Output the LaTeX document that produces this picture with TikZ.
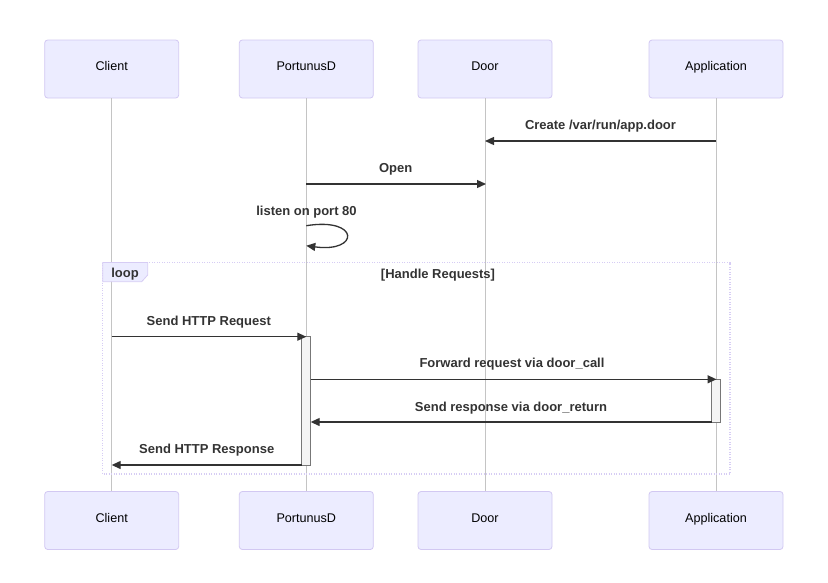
\documentclass[tikz,border=0pt]{standalone}
\usepackage{fontspec}
\setmainfont{Liberation Sans}
\usetikzlibrary{arrows.meta}
\definecolor{actfill}{HTML}{ECECFF}
\definecolor{actline}{HTML}{D2C8F2}
\definecolor{loopline}{HTML}{D6CCF4}
\definecolor{lifegray}{HTML}{C4C4C4}
\definecolor{msgline}{HTML}{333333}
\definecolor{actbg}{HTML}{F4F4F4}
\definecolor{actgray}{HTML}{777777}
\begin{document}
\begin{tikzpicture}[x=1pt, y=-1pt,
  actor/.style={draw=actline, fill=actfill, rounded corners=3pt, line width=0.8pt, minimum width=134pt, minimum height=58pt, text height=9pt, text depth=6pt, font=\fontsize{12.6}{15}\selectfont},
  life/.style={draw=lifegray, line width=1pt},
  msg/.style={draw=msgline, line width=1.3pt, -{Triangle[length=9pt,width=8pt]}},
  msgtext/.style={font=\bfseries\fontsize{13}{15}\selectfont, text=msgline},
  act/.style={draw=actgray, fill=actbg, line width=0.8pt, minimum width=9pt, inner sep=0pt},
  loopbox/.style={draw=loopline, line width=1.2pt, dash pattern=on 1pt off 1.5pt}]
\useasboundingbox (0,0) rectangle (828,582);
% participants
\node[actor] (Client) at (111.7, 69) {Client};
\node[actor] (Portunus) at (306.3, 69) {PortunusD};
\node[actor] (Door) at (485, 69) {Door};
\node[actor] (App) at (716, 69) {Application};
\node[actor] (Client2) at (111.7, 520.5) {Client};
\node[actor] (Portunus2) at (306.3, 520.5) {PortunusD};
\node[actor] (Door2) at (485, 520.5) {Door};
\node[actor] (App2) at (716, 520.5) {Application};
% lifelines
\draw[life] (Client) -- (Client2);
\draw[life] (Portunus) -- (Portunus2);
\draw[life] (Door) -- (Door2);
\draw[life] (App) -- (App2);
% loop frame
\draw[loopbox] (102.7,262.5) rectangle (730,474);
\draw[draw=loopline, fill=actfill, line width=0.8pt] (102.7,262.5) -- (147.7,262.5) -- (147.7,275) -- (141.7,281.7) -- (102.7,281.7) -- cycle;
\node[msgtext] (loop) at (125,273.8) {loop};
\node[msgtext] (cond) at (438,275.5) {[Handle Requests]};
% activations
\node[act, minimum height=128.3pt] (actP) at (306.2,400.85) {};
\node[act, minimum height=42.7pt] (actA) at (716.2,400.65) {};
% message ends
\coordinate (a1) at (716,141);
\coordinate (d1) at (485,141);
\coordinate (p2) at (306.3,184);
\coordinate (d2) at (486,184);
\coordinate (s1) at (306.3,225.7);
\coordinate (s2) at (306.3,245.7);
\coordinate (c3) at (111.7,336.7);
\coordinate (p3) at (306.3,336.7);
\coordinate (p4) at (310.7,379.3);
\coordinate (a4) at (716.5,379.3);
\coordinate (a5) at (711.7,422);
\coordinate (p5) at (310.7,422);
\coordinate (p6) at (301.7,465);
\coordinate (c6) at (111.7,465);
% messages
\draw[msg] (a1) -- (d1);
\node[msgtext] (m1) at (600.5,126.5) {Create /var/run/app.door};
\draw[msg] (p2) -- (d2);
\node[msgtext] (m2) at (395.7,169.5) {Open};
\draw[msg] (s1) .. controls (360,217) and (360,253) .. (s2);
\node[msgtext] (m3) at (306.5,212.5) {listen on port 80};
\draw[msg] (c3) -- (p3);
\node[msgtext] (m4) at (208.8,322.2) {Send HTTP Request};
\draw[msg] (p4) -- (a4);
\node[msgtext] (m5) at (512,364.5) {Forward request via door\_call};
\draw[msg] (a5) -- (p5);
\node[msgtext] (m6) at (511,408.2) {Send response via door\_return};
\draw[msg] (p6) -- (c6);
\node[msgtext] (m7) at (206.7,450.5) {Send HTTP Response};
\end{tikzpicture}
\end{document}
